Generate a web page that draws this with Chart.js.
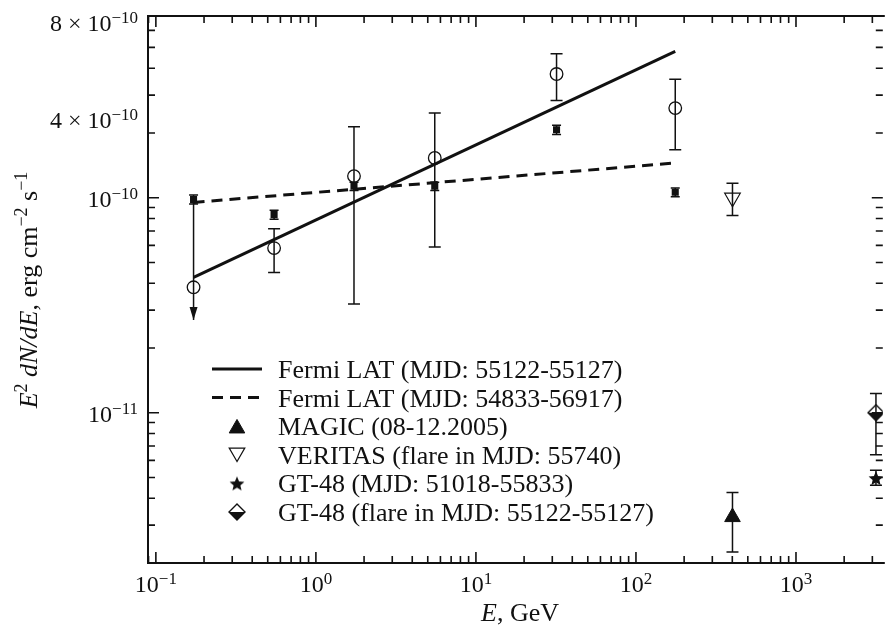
<!DOCTYPE html>
<html>
<head>
<meta charset="utf-8">
<script src="https://cdn.jsdelivr.net/npm/chart.js@4.4.1/dist/chart.umd.min.js"></script>
<style>
  html, body { margin: 0; padding: 0; background: #fff; overflow: hidden; }
  #wrap { width: 893px; height: 626px; }
</style>
</head>
<body>
<div id="wrap"><canvas id="sed" width="893" height="626"></canvas></div>
<script>
// axis ranges (the right edge of the frame sits at the picture border)
const xRange = [0.0893, 3487];
const yRange = [2e-12, 7e-10];

// Fermi LAT points (open circles = flare, filled squares = long average)
const fermiEnergy = [0.172, 0.548, 1.73, 5.53, 31.9, 176];
const flareFlux = [3.83e-11, 5.83e-11, 1.26e-10, 1.53e-10, 3.76e-10, 2.61e-10];
const flareHigh = [9.8e-11, 7.17e-11, 2.14e-10, 2.48e-10, 4.67e-10, 3.56e-10];
const flareLow = [2.7e-11, 4.49e-11, 3.2e-11, 5.9e-11, 2.83e-10, 1.67e-10];
const flareUpperLimit = [true, false, false, false, false, false];
const avgFlux = [9.8e-11, 8.34e-11, 1.13e-10, 1.13e-10, 2.07e-10, 1.06e-10];
const avgHigh = [1.03e-10, 8.75e-11, 1.18e-10, 1.18e-10, 2.17e-10, 1.11e-10];
const avgLow = [9.35e-11, 7.95e-11, 1.08e-10, 1.08e-10, 1.97e-10, 1.01e-10];

// power-law fits
const fitEnergy = [0.172, 176];
const fitFlare = [4.26e-11, 4.79e-10];
const fitAverage = [9.51e-11, 1.45e-10];

// TeV instruments
const magicEnergy = [401];
const magicFlux = [3.27e-12];
const magicHigh = [4.26e-12];
const magicLow = [2.25e-12];
const veritasEnergy = [401];
const veritasFlux = [1.0e-10];
const veritasHigh = [1.166e-10];
const veritasLow = [0.827e-10];
const gtEnergy = [3160];
const gtFlux = [4.97e-12];
const gtHigh = [5.4e-12];
const gtLow = [4.6e-12];
const gtFlareFlux = [1.0e-11];
const gtFlareHigh = [1.23e-11];
const gtFlareLow = [6.38e-12];

// tick labels
const xTickValues = [0.1, 1, 10, 100, 1000];
const xTickExps = ["\u22121", "0", "1", "2", "3"];
// the original prints the 4x and 8x labels at these heights
const yTickValues = [1e-11, 1e-10, 2.33e-10, 6.55e-10];
const yTickBases = ["10", "10", "4 \u00d7 10", "8 \u00d7 10"];
const yTickExps = ["\u221211", "\u221210", "\u221210", "\u221210"];

const legendLabels = [
  "Fermi LAT (MJD: 55122-55127)",
  "Fermi LAT (MJD: 54833-56917)",
  "MAGIC (08-12.2005)",
  "VERITAS (flare in MJD: 55740)",
  "GT-48 (MJD: 51018-55833)",
  "GT-48 (flare in MJD: 55122-55127)",
];

const INK = "#111";
const SERIF = "'Liberation Serif', 'Times New Roman', serif";

function makeStar(size) {
  const c = document.createElement("canvas");
  c.width = c.height = size;
  const g = c.getContext("2d");
  const cx = size / 2, cy = size / 2 + 0.8, R = size / 2 - 0.2, r = R * 0.45;
  g.beginPath();
  for (let i = 0; i < 10; i++) {
    const a = -Math.PI / 2 + (i * Math.PI) / 5;
    const rr = i % 2 ? r : R;
    g.lineTo(cx + rr * Math.cos(a), cy + rr * Math.sin(a));
  }
  g.closePath();
  g.fillStyle = INK;
  g.fill();
  return c;
}

function makeHalfDiamond(w, h) {
  const c = document.createElement("canvas");
  c.width = w + 2;
  c.height = h + 2;
  const g = c.getContext("2d");
  const cx = c.width / 2, cy = c.height / 2;
  g.beginPath();
  g.moveTo(cx - w / 2, cy);
  g.lineTo(cx + w / 2, cy);
  g.lineTo(cx, cy + h / 2);
  g.closePath();
  g.fillStyle = INK;
  g.fill();
  g.beginPath();
  g.moveTo(cx, cy - h / 2);
  g.lineTo(cx + w / 2, cy);
  g.lineTo(cx, cy + h / 2);
  g.lineTo(cx - w / 2, cy);
  g.closePath();
  g.lineWidth = 1.4;
  g.strokeStyle = INK;
  g.stroke();
  return c;
}

const starImg = makeStar(16);
const diamondImg = makeHalfDiamond(16, 16);

function pts(xs, ys) {
  return xs.map((x, i) => ({ x: x, y: ys[i] }));
}

const datasets = [
  {
    label: legendLabels[0],
    data: pts(fitEnergy, fitFlare),
    showLine: true,
    borderColor: INK,
    borderWidth: 3,
    pointRadius: 0,
    order: 2,
  },
  {
    label: legendLabels[1],
    data: pts(fitEnergy, fitAverage),
    showLine: true,
    borderColor: INK,
    borderWidth: 3,
    borderDash: [11, 7],
    pointRadius: 0,
    order: 2,
  },
  {
    label: "Fermi LAT flare points",
    data: pts(fermiEnergy, flareFlux),
    pointStyle: "circle",
    pointRadius: 6.3,
    pointBorderWidth: 1.3,
    pointBorderColor: INK,
    pointBackgroundColor: "rgba(0,0,0,0)",
    errHigh: flareHigh,
    errLow: flareLow,
    upperLimit: flareUpperLimit,
    capWidth: 12,
    order: 0,
  },
  {
    label: "Fermi LAT average points",
    data: pts(fermiEnergy, avgFlux),
    pointStyle: "rect",
    pointRadius: 5,
    pointBorderWidth: 0,
    pointBackgroundColor: INK,
    errHigh: avgHigh,
    errLow: avgLow,
    capWidth: 9,
    order: 0,
  },
  {
    label: legendLabels[2],
    data: pts(magicEnergy, magicFlux),
    pointStyle: "triangle",
    pointRadius: 9,
    pointBorderWidth: 1,
    pointBorderColor: INK,
    pointBackgroundColor: INK,
    errHigh: magicHigh,
    errLow: magicLow,
    capWidth: 12,
    order: 0,
  },
  {
    label: legendLabels[3],
    data: pts(veritasEnergy, veritasFlux),
    pointStyle: "triangle",
    pointRotation: 180,
    pointRadius: 9,
    pointBorderWidth: 1.2,
    pointBorderColor: INK,
    pointBackgroundColor: "rgba(0,0,0,0)",
    errHigh: veritasHigh,
    errLow: veritasLow,
    capWidth: 12,
    order: 0,
  },
  {
    label: legendLabels[4],
    data: pts(gtEnergy, gtFlux),
    pointStyle: starImg,
    pointRadius: 8,
    errHigh: gtHigh,
    errLow: gtLow,
    capWidth: 12,
    order: 0,
  },
  {
    label: legendLabels[5],
    data: pts(gtEnergy, gtFlareFlux),
    pointStyle: diamondImg,
    pointRadius: 8,
    errHigh: gtFlareHigh,
    errLow: gtFlareLow,
    capWidth: 12,
    order: 0,
  },
];

function drawPow(ctx, base, exp, x, baseline, align, size, supSize, rise) {
  ctx.font = size + "px " + SERIF;
  const wb = ctx.measureText(base).width;
  ctx.font = supSize + "px " + SERIF;
  const we = ctx.measureText(exp).width;
  const x0 = align === "right" ? x - wb - we : x - (wb + we) / 2;
  ctx.textAlign = "left";
  ctx.textBaseline = "alphabetic";
  ctx.font = size + "px " + SERIF;
  ctx.fillText(base, x0, baseline);
  ctx.font = supSize + "px " + SERIF;
  ctx.fillText(exp, x0 + wb, baseline - rise);
}

// draw text pieces in a row: [text, "n" | "i" | "sup"]
function drawPieces(ctx, pieces, x, baseline, size, supSize, rise) {
  const fontOf = (k) =>
    k === "i" ? "italic " + size + "px " + SERIF
      : k === "sup" ? supSize + "px " + SERIF
      : size + "px " + SERIF;
  let total = 0;
  pieces.forEach((p) => {
    ctx.font = fontOf(p[1]);
    total += ctx.measureText(p[0]).width;
  });
  let cx = x - total / 2;
  ctx.textAlign = "left";
  ctx.textBaseline = "alphabetic";
  pieces.forEach((p) => {
    ctx.font = fontOf(p[1]);
    ctx.fillText(p[0], cx, p[1] === "sup" ? baseline - rise : baseline);
    cx += ctx.measureText(p[0]).width;
  });
}

function legendMarker(ctx, ds, x, y) {
  const style = ds.pointStyle;
  if (style instanceof HTMLCanvasElement) {
    ctx.drawImage(style, x - style.width / 2, y - style.height / 2);
    return;
  }
  const r = ds.pointRadius;
  const rot = ((ds.pointRotation || 0) * Math.PI) / 180;
  const cy = rot ? y - r / 4 : y + r / 4;
  ctx.save();
  ctx.translate(x, cy);
  ctx.rotate(rot);
  ctx.beginPath();
  for (let k = 0; k < 3; k++) {
    const a = (k * 2 * Math.PI) / 3;
    ctx.lineTo(Math.sin(a) * r, -Math.cos(a) * r);
  }
  ctx.closePath();
  ctx.fillStyle = ds.pointBackgroundColor;
  ctx.fill();
  ctx.lineWidth = ds.pointBorderWidth;
  ctx.strokeStyle = ds.pointBorderColor;
  ctx.stroke();
  ctx.restore();
}

const sedFrame = {
  id: "sedFrame",
  beforeDatasetsDraw(chart) {
    const ctx = chart.ctx;
    const ys = chart.scales.y;
    ctx.save();
    ctx.strokeStyle = INK;
    ctx.fillStyle = INK;
    ctx.lineWidth = 1.5;
    chart.data.datasets.forEach((ds, i) => {
      if (!ds.errHigh) return;
      chart.getDatasetMeta(i).data.forEach((pt, j) => {
        const x = pt.x;
        const yH = ys.getPixelForValue(ds.errHigh[j]);
        const yL = ys.getPixelForValue(ds.errLow[j]);
        const half = ds.capWidth / 2;
        ctx.beginPath();
        ctx.moveTo(x, yH);
        ctx.lineTo(x, yL);
        if (ds.upperLimit && ds.upperLimit[j]) {
          ctx.stroke();
          ctx.beginPath();
          ctx.moveTo(x, yL);
          ctx.lineTo(x - 4, yL - 13);
          ctx.lineTo(x + 4, yL - 13);
          ctx.closePath();
          ctx.fill();
          return;
        }
        ctx.moveTo(x - half, yH);
        ctx.lineTo(x + half, yH);
        ctx.moveTo(x - half, yL);
        ctx.lineTo(x + half, yL);
        ctx.stroke();
      });
    });
    ctx.restore();
  },
  afterDraw(chart) {
    const ctx = chart.ctx;
    const { left, right, top, bottom } = chart.chartArea;
    const xs = chart.scales.x;
    const ys = chart.scales.y;
    ctx.save();
    ctx.strokeStyle = INK;
    ctx.fillStyle = INK;

    // frame: the right side lies just past the picture border
    ctx.lineWidth = 2;
    ctx.beginPath();
    ctx.moveTo(right + 2, top);
    ctx.lineTo(left, top);
    ctx.lineTo(left, bottom);
    ctx.lineTo(right + 2, bottom);
    ctx.stroke();

    // inward ticks on all four sides
    ctx.lineWidth = 1.6;
    ctx.beginPath();
    for (let d = -2; d <= 4; d++) {
      for (let m = 1; m <= 9; m++) {
        const v = m * Math.pow(10, d);
        if (v <= xRange[0] || v >= xRange[1]) continue;
        const px = xs.getPixelForValue(v);
        const len = m === 1 ? 11 : 7;
        ctx.moveTo(px, bottom);
        ctx.lineTo(px, bottom - len);
        ctx.moveTo(px, top);
        ctx.lineTo(px, top + len);
      }
    }
    for (let d = -13; d <= -9; d++) {
      for (let m = 1; m <= 9; m++) {
        const v = m * Math.pow(10, d);
        if (v <= yRange[0] * 1.001 || v >= yRange[1] * 0.999) continue;
        const py = ys.getPixelForValue(v);
        const len = m === 1 ? 11 : 7;
        ctx.moveTo(left, py);
        ctx.lineTo(left + len, py);
        ctx.moveTo(right, py);
        ctx.lineTo(right - len, py);
      }
    }
    ctx.stroke();

    // tick labels
    xTickValues.forEach((v, i) => {
      drawPow(ctx, "10", xTickExps[i], xs.getPixelForValue(v), bottom + 29, "center", 24, 17, 8);
    });
    yTickValues.forEach((v, i) => {
      drawPow(ctx, yTickBases[i], yTickExps[i], left - 10, ys.getPixelForValue(v) + 9, "right", 24, 17, 8);
    });

    // axis titles
    drawPieces(ctx, [["E", "i"], [", GeV", "n"]], 520, 621, 26, 18, 9);
    ctx.save();
    ctx.translate(37, 290);
    ctx.rotate(-Math.PI / 2);
    drawPieces(
      ctx,
      [["E", "i"], ["2", "sup"], [" ", "n"], ["dN/dE", "i"], [", erg cm", "n"],
       ["\u22122", "sup"], [" s", "n"], ["\u22121", "sup"]],
      0, 0, 26, 18, 10
    );
    ctx.restore();

    // legend
    const rowY0 = 369, rowStep = 28.6, sampleL = 212, sampleR = 262, textX = 278;
    legendLabels.forEach((lab, i) => {
      const ds = chart.data.datasets.find((d) => d.label === lab);
      const yRow = rowY0 + i * rowStep;
      if (ds.showLine) {
        ctx.save();
        ctx.lineWidth = ds.borderWidth;
        ctx.setLineDash(ds.borderDash || []);
        ctx.beginPath();
        ctx.moveTo(sampleL, yRow);
        ctx.lineTo(sampleR, yRow);
        ctx.stroke();
        ctx.restore();
      } else {
        legendMarker(ctx, ds, (sampleL + sampleR) / 2, yRow);
      }
      ctx.fillStyle = INK;
      ctx.font = "26px " + SERIF;
      ctx.textAlign = "left";
      ctx.textBaseline = "alphabetic";
      ctx.fillText(lab, textX, yRow + 9);
    });
    ctx.restore();
  },
};

new Chart(document.getElementById("sed").getContext("2d"), {
  type: "scatter",
  data: { datasets: datasets },
  options: {
    responsive: false,
    animation: false,
    devicePixelRatio: 1,
    events: [],
    layout: { padding: { left: 148, right: 0, top: 16, bottom: 63 } },
    scales: {
      x: { type: "logarithmic", display: false, min: xRange[0], max: xRange[1] },
      y: { type: "logarithmic", display: false, min: yRange[0], max: yRange[1] },
    },
    plugins: {
      legend: { display: false },
      tooltip: { enabled: false },
    },
  },
  plugins: [sedFrame],
});
</script>
</body>
</html>
